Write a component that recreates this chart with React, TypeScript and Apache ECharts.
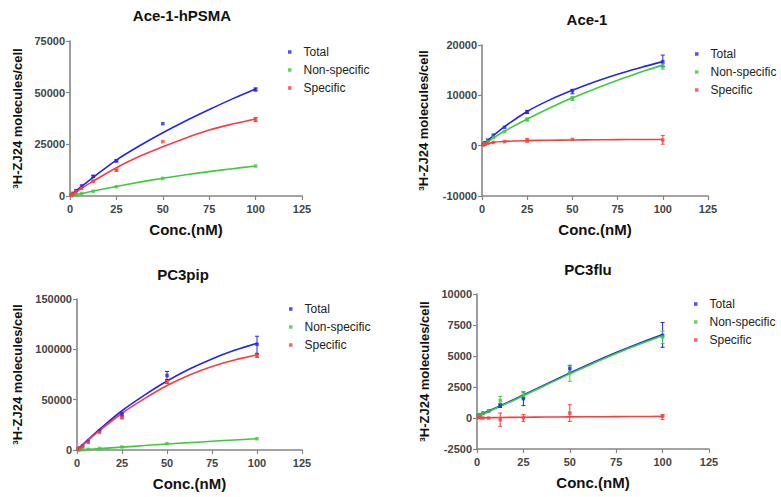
import React, { useEffect, useRef } from "react";
import * as echarts from "echarts";

// ---------- data ----------
const CONC = [0.78, 1.56, 3.125, 6.25, 12.5, 25, 50, 100];
const FIT_X = [0, 6.25, 12.5, 25, 37.5, 50, 62.5, 75, 87.5, 100];
const SERIES_NAMES = ["Total", "Non-specific", "Specific"];
const TITLES = ["Ace-1-hPSMA", "Ace-1", "PC3pip", "PC3flu"];
const X_NAME = "Conc.(nM)";
const Y_NAME = "{s|3}H-ZJ24 molecules/cell";

const X_MIN = 0;
const X_MAX = 125;
const X_INTERVAL = 25;
const Y_MIN = [0, -10000, 0, -2500];
const Y_MAX = [75000, 20000, 150000, 10000];
const Y_INTERVAL = [25000, 10000, 50000, 2500];

// Ace-1-hPSMA
const total1 = [600, 1300, 2600, 4900, 9500, 17000, 35000, 51500];
const nonspec1 = [150, 300, 600, 1200, 2300, 4500, 8500, 14500];
const spec1 = [450, 1000, 2000, 3700, 7200, 12500, 26300, 37000];
const total1Fit = [0, 4600, 9000, 17400, 24300, 30600, 36400, 41800, 47000, 51800];
const nonspec1Fit = [0, 1200, 2400, 4600, 6700, 8600, 10300, 11800, 13200, 14500];
const spec1Fit = [0, 3700, 7200, 13700, 19200, 23800, 28100, 31900, 34800, 37300];
const total1Err = [[12.5, 9000, 10000], [25, 16500, 17500], [100, 50800, 52300]];
const nonspec1Err: number[][] = [];
const spec1Err = [[12.5, 6800, 7600], [25, 12000, 13000], [100, 36000, 38000]];

// Ace-1
const total2 = [300, 600, 1100, 2100, 3650, 6700, 10900, 16700];
const nonspec2 = [150, 350, 800, 1650, 2800, 5200, 9400, 15800];
const spec2 = [150, 300, 500, 650, 800, 1050, 1250, 1100];
const total2Fit = [0, 2000, 3800, 6800, 9100, 11000, 12700, 14200, 15500, 16700];
const nonspec2Fit = [0, 1500, 2900, 5300, 7500, 9500, 11300, 13000, 14600, 16000];
const spec2Fit = [0, 650, 850, 1000, 1080, 1130, 1170, 1200, 1220, 1240];
const total2Err = [[25, 6400, 7000], [50, 10300, 11200], [100, 15700, 18000]];
const nonspec2Err = [[25, 4900, 5500], [50, 9000, 9700], [100, 15200, 16300]];
const spec2Err = [[25, 700, 1400], [100, 300, 2000]];

// PC3pip
const total3 = [1000, 2000, 4000, 8300, 19000, 35000, 74000, 105000];
const nonspec3 = [100, 200, 350, 700, 1500, 3000, 6300, 11200];
const spec3 = [900, 1800, 3600, 7600, 17500, 32300, 67300, 93400];
const total3Fit = [0, 10500, 20500, 39000, 54500, 68500, 80500, 90500, 99000, 106000];
const nonspec3Fit = [0, 700, 1400, 2900, 4400, 6000, 7300, 8700, 10000, 11200];
const spec3Fit = [0, 9800, 19200, 36500, 51000, 64000, 74500, 83000, 89500, 94500];
const total3Err = [[25, 33000, 37000], [50, 70000, 78000], [100, 96000, 113000]];
const nonspec3Err: number[][] = [];
const spec3Err = [[25, 31000, 34000], [50, 66000, 69000], [100, 92000, 95000]];

// PC3flu
const total4 = [200, 270, 400, 560, 1000, 1560, 3980, 6670];
const nonspec4 = [150, 250, 350, 550, 1400, 1830, 3630, 6530];
const spec4 = [50, 20, 0, 0, -130, 0, 400, 130];
const total4Fit = [150, 560, 980, 1850, 2750, 3630, 4480, 5280, 6030, 6730];
const nonspec4Fit = [100, 510, 930, 1790, 2680, 3560, 4400, 5200, 5940, 6630];
const spec4Fit = [0, 20, 40, 60, 80, 90, 100, 110, 120, 130];
const total4Err = [[12.5, 850, 1150], [25, 1000, 2100], [50, 3700, 4250], [100, 5700, 7700]];
const nonspec4Err = [[12.5, 1080, 1750], [25, 1600, 2100], [50, 2960, 4200], [100, 6000, 7000]];
const spec4Err = [[12.5, -670, 400], [25, -270, 270], [50, -270, 1070], [100, -130, 270]];

const POINTS = [
  [total1, nonspec1, spec1],
  [total2, nonspec2, spec2],
  [total3, nonspec3, spec3],
  [total4, nonspec4, spec4],
];
const FITS = [
  [total1Fit, nonspec1Fit, spec1Fit],
  [total2Fit, nonspec2Fit, spec2Fit],
  [total3Fit, nonspec3Fit, spec3Fit],
  [total4Fit, nonspec4Fit, spec4Fit],
];
const ERRS = [
  [total1Err, nonspec1Err, spec1Err],
  [total2Err, nonspec2Err, spec2Err],
  [total3Err, nonspec3Err, spec3Err],
  [total4Err, nonspec4Err, spec4Err],
];

// ---------- styling / layout ----------
const COLORS = ["#2424f0", "#3ccc3c", "#ff3c3c"];
const FONT = "Liberation Sans, Arial, sans-serif";
const AXIS_COLOR = "#858585";
const GRIDS = [
  { left: 70, top: 41, width: 232, height: 155 },
  { left: 482, top: 45, width: 226, height: 151 },
  { left: 77, top: 299, width: 225, height: 151 },
  { left: 477, top: 294, width: 232, height: 155 },
];
const TITLE_POS = [
  { x: 182, y: 8 },
  { x: 587, y: 12 },
  { x: 183, y: 267 },
  { x: 588, y: 262 },
];
const LEGEND_POS = [
  { left: 288, top: 45 },
  { left: 695, top: 47 },
  { left: 289, top: 302 },
  { left: 694, top: 297 },
];
const Y_NAME_GAP = [46, 52, 53, 46];

function buildOption() {
  const series: any[] = [];
  POINTS.forEach((panel, p) => {
    panel.forEach((vals, s) => {
      series.push({
        name: SERIES_NAMES[s] + " fit",
        type: "line",
        xAxisIndex: p,
        yAxisIndex: p,
        data: FIT_X.map((x, i) => [x, FITS[p][s][i]]),
        smooth: 0.35,
        symbol: "none",
        lineStyle: { color: COLORS[s], width: 1.6 },
        z: 2,
        silent: true,
      });
      series.push({
        name: SERIES_NAMES[s] + " error",
        type: "custom",
        xAxisIndex: p,
        yAxisIndex: p,
        data: ERRS[p][s],
        encode: { x: 0, y: [1, 2] },
        z: 3,
        silent: true,
        renderItem: (params: any, api: any) => {
          const x = api.value(0);
          const lo = api.coord([x, api.value(1)]);
          const hi = api.coord([x, api.value(2)]);
          const cap = 2;
          const style = { stroke: COLORS[s], lineWidth: 1 };
          return {
            type: "group",
            children: [
              { type: "line", shape: { x1: lo[0], y1: lo[1], x2: hi[0], y2: hi[1] }, style },
              { type: "line", shape: { x1: lo[0] - cap, y1: lo[1], x2: lo[0] + cap, y2: lo[1] }, style },
              { type: "line", shape: { x1: hi[0] - cap, y1: hi[1], x2: hi[0] + cap, y2: hi[1] }, style },
            ],
          };
        },
      });
      series.push({
        name: SERIES_NAMES[s],
        type: "scatter",
        xAxisIndex: p,
        yAxisIndex: p,
        data: CONC.map((x, i) => [x, vals[i]]),
        symbol: "rect",
        symbolSize: 3.5,
        itemStyle: { color: COLORS[s] },
        z: 4,
      });
    });
  });

  return {
    animation: false,
    backgroundColor: "#ffffff",
    textStyle: { fontFamily: FONT },
    title: TITLES.map((t, i) => ({
      text: t,
      left: TITLE_POS[i].x,
      top: TITLE_POS[i].y,
      textAlign: "center",
      padding: 0,
      textStyle: { fontFamily: FONT, fontSize: 15, fontWeight: "bold", color: "#111" },
    })),
    legend: LEGEND_POS.map((l) => ({
      data: SERIES_NAMES,
      orient: "vertical",
      left: l.left,
      top: l.top,
      padding: 0,
      itemGap: 4,
      itemWidth: 3.5,
      itemHeight: 3.5,
      icon: "rect",
      selectedMode: false,
      textStyle: { fontFamily: FONT, fontSize: 12, color: "#222", lineHeight: 14, padding: [0, 0, 0, 7] },
    })),
    grid: GRIDS.map((g) => ({ ...g, containLabel: false })),
    xAxis: GRIDS.map((_, i) => ({
      type: "value",
      gridIndex: i,
      min: X_MIN,
      max: X_MAX,
      interval: X_INTERVAL,
      name: X_NAME,
      nameLocation: "middle",
      nameGap: 26,
      nameTextStyle: { fontFamily: FONT, fontSize: 15, fontWeight: "bold", color: "#111" },
      axisLine: { onZero: false, lineStyle: { color: AXIS_COLOR, width: 1.6 } },
      axisTick: { show: true, length: 4, lineStyle: { color: AXIS_COLOR, width: 1.2 } },
      axisLabel: { fontFamily: FONT, fontSize: 11, fontWeight: "bold", color: "#444", margin: 7 },
      splitLine: { show: false },
    })),
    yAxis: GRIDS.map((_, i) => ({
      type: "value",
      gridIndex: i,
      min: Y_MIN[i],
      max: Y_MAX[i],
      interval: Y_INTERVAL[i],
      name: Y_NAME,
      nameLocation: "middle",
      nameGap: Y_NAME_GAP[i],
      nameTextStyle: {
        fontFamily: FONT,
        fontSize: 13,
        fontWeight: "bold",
        color: "#111",
        rich: { s: { fontSize: 8, fontWeight: "bold", verticalAlign: "top", fontFamily: FONT, color: "#111" } },
      },
      axisLine: { onZero: false, lineStyle: { color: AXIS_COLOR, width: 1.6 } },
      axisTick: { show: true, length: 4, lineStyle: { color: AXIS_COLOR, width: 1.2 } },
      axisLabel: {
        fontFamily: FONT,
        fontSize: 11,
        fontWeight: "bold",
        color: "#444",
        margin: 5,
        formatter: (v: number) => String(v),
      },
      splitLine: { show: false },
    })),
    series,
  };
}

export default function App() {
  const ref = useRef<HTMLDivElement>(null);
  useEffect(() => {
    if (!ref.current) return;
    const chart = echarts.init(ref.current, undefined, { renderer: "svg" });
    chart.setOption(buildOption() as any);
    return () => chart.dispose();
  }, []);
  return (
    <div
      ref={ref}
      style={{ position: "fixed", left: 0, top: 0, width: 781, height: 497, background: "#fff" }}
    />
  );
}
